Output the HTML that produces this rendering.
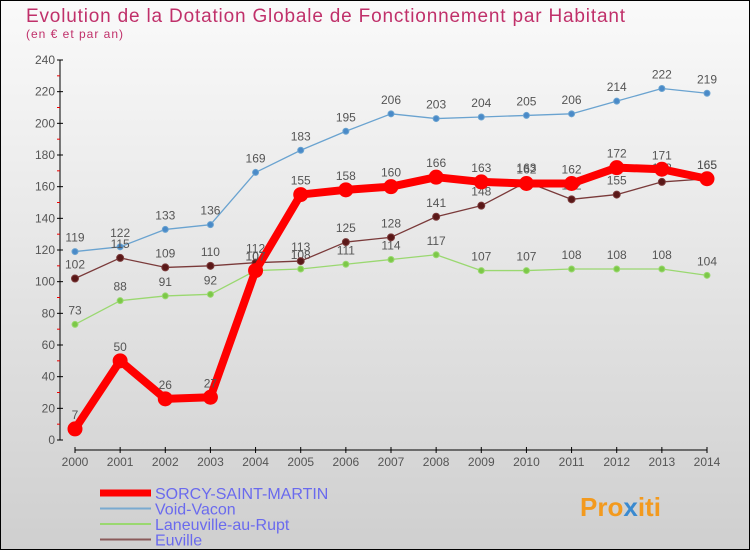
<!DOCTYPE html>
<html><head><meta charset="utf-8"><style>
body{margin:0}
#c{width:750px;height:550px;position:relative;font-family:"Liberation Sans",sans-serif}
</style></head><body>
<div id="c">
<svg id="s" width="750" height="550" xmlns="http://www.w3.org/2000/svg">
<defs><linearGradient id="bg" x1="0" y1="0" x2="0" y2="1"><stop offset="0" stop-color="#fafafa"/><stop offset="1" stop-color="#cfcfcf"/></linearGradient></defs>
<rect x="0.5" y="0.5" width="749" height="549" fill="url(#bg)" stroke="#000"/>
<text x="26" y="22" font-size="19" fill="#c0306a" textLength="599" lengthAdjust="spacing">Evolution de la Dotation Globale de Fonctionnement par Habitant</text>
<text x="26" y="38" font-size="12" fill="#c0306a" textLength="97" lengthAdjust="spacing">(en € et par an)</text>
<g id="axes"></g><g id="series"></g><g id="legend"></g>
<text x="580" y="516" font-size="26" font-weight="bold" fill="#f39a1e">Pro<tspan fill="#3a8ad0">x</tspan>iti</text>
</svg></div>
<script>
const years=[2000,2001,2002,2003,2004,2005,2006,2007,2008,2009,2010,2011,2012,2013,2014];
const yTicks=[0,20,40,60,80,100,120,140,160,180,200,220,240];
const sorcy=[7,50,26,27,107,155,158,160,166,163,162,162,172,171,165];
const voidVacon=[119,122,133,136,169,183,195,206,203,204,205,206,214,222,219];
const laneuville=[73,88,91,92,107,108,111,114,117,107,107,108,108,108,104];
const euville=[102,115,109,110,112,113,125,128,141,148,163,152,155,163,165];
const NS="http://www.w3.org/2000/svg";
const X=i=>75+i*(707-75)/(years.length-1);
const Y=v=>440-v*380/240;
function mk(t,a,p){const e=document.createElementNS(NS,t);for(const k in a)e.setAttribute(k,a[k]);p.appendChild(e);return e;}
const ax=document.getElementById('axes');
const yAxis=mk('line',{x1:60,y1:60,x2:60,y2:440,stroke:'#000'},ax);


yTicks.forEach(v=>{
 mk('line',{x1:57,x2:63,y1:Y(v),y2:Y(v),stroke:'#000'},ax);
 if(v<240)mk('line',{x1:57,x2:60,y1:Y(v+10),y2:Y(v+10),stroke:'#e00'},ax);
 const t=mk('text',{x:55,y:Y(v)+4,'font-size':12,'text-anchor':'end',fill:'#555'},ax);t.textContent=v;
 
 
});
const xAxis=mk('line',{x1:75,y1:450,x2:707,y2:450,stroke:'#000'},ax);


years.forEach((y,i)=>{
 mk('line',{x1:X(i),x2:X(i),y1:447,y2:453,stroke:'#000'},ax);
 const t=mk('text',{x:X(i),y:466,'font-size':12,'text-anchor':'middle',fill:'#555'},ax);t.textContent=y;
 
 
});
const sg=document.getElementById('series');
function draw(d,col,dot,w,r,name){
 const g=mk('g',{},sg);
 
 
 mk('polyline',{points:d.map((v,i)=>X(i)+','+Y(v)).join(' '),fill:'none',stroke:col,'stroke-width':w,'stroke-linejoin':'round'},g);
 d.forEach((v,i)=>{
  const c=mk('circle',{cx:X(i),cy:Y(v),r:r,fill:dot,stroke:col,'stroke-width':1},g);
  
  
  const t=mk('text',{x:X(i),y:Y(v)-10,'font-size':12,'text-anchor':'middle',fill:'#555'},g);t.textContent=v;
  
  
 });
}
draw(voidVacon,'#6aa3d0','#4a8ac8',1.3,3,'series-void-vacon');
draw(laneuville,'#9ad870','#7cc848',1.3,3,'series-laneuville');
draw(euville,'#7a3a3a','#5a1818',1.3,3.5,'series-euville');
draw(sorcy,'#f00','#f00',8,7,'series-sorcy');
const lg=document.getElementById('legend');
[['SORCY-SAINT-MARTIN','#f00',7],['Void-Vacon','#7aaad0',2],['Laneuville-au-Rupt','#9ad870',2],['Euville','#8a5a5a',2]].forEach((e,i)=>{
 const y=493+i*15.5;
 const g=mk('g',{},lg);
 
 
 mk('line',{x1:100,x2:151,y1:y,y2:y,stroke:e[1],'stroke-width':e[2]},g);
 const t=mk('text',{x:155,y:y+6,'font-size':16,fill:'#6a6aee'},g);t.textContent=e[0];
});
</script>
</body></html>
